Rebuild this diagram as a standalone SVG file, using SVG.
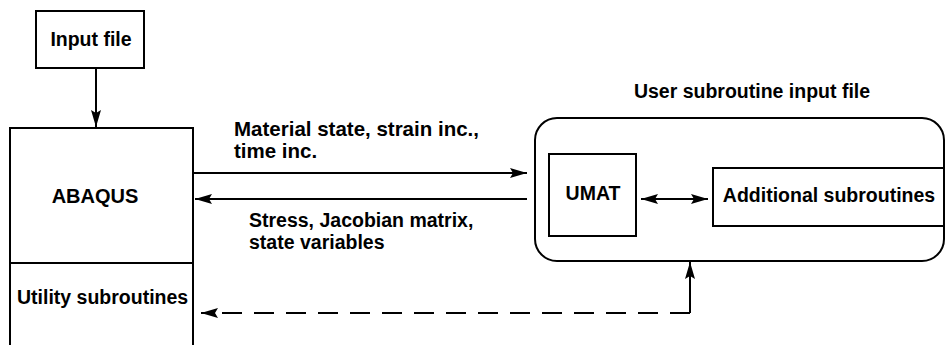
<svg xmlns="http://www.w3.org/2000/svg" width="946" height="345" viewBox="0 0 946 345">
  <style>
    .box { fill: none; stroke: #000; stroke-width: 2; }
    .t { font-family: "Liberation Sans", Arial, sans-serif; font-weight: bold; font-size: 19.5px; fill: #000; }
    .c { text-anchor: middle; }
    .line { stroke: #000; stroke-width: 2; fill: none; }
    .dash { stroke-dasharray: 20 12; }
  </style>
  <defs>
    <marker id="arr" markerUnits="userSpaceOnUse" markerWidth="20" markerHeight="12" refX="17" refY="5" orient="auto-start-reverse">
      <path d="M0,0 L17,5 L0,10 L3,5 z" fill="#000"/>
    </marker>
  </defs>
  <rect width="946" height="345" fill="#fff"/>

  <g id="input-file">
    <rect class="box" x="36" y="11" width="108" height="57"/>
    <text class="t c" x="91" y="46">Input file</text>
  </g>

  <g id="abaqus">
    <path class="box" d="M10,345 V128 H193 V345"/>
    <text class="t c" x="95" y="203" style="font-size:20px">ABAQUS</text>
  </g>

  <g id="utility">
    <line class="line" x1="10" y1="263" x2="193" y2="263"/>
    <text class="t" x="17" y="304">Utility subroutines</text>
  </g>

  <g id="user-file">
    <rect class="box" x="535" y="118" width="409" height="143" rx="22" ry="22"/>
    <text class="t c" x="752" y="98">User subroutine input file</text>
  </g>

  <g id="umat">
    <rect class="box" x="549" y="154" width="87" height="82"/>
    <text class="t c" x="593" y="200">UMAT</text>
  </g>

  <g id="additional">
    <rect class="box" x="713" y="168" width="231" height="58"/>
    <text class="t c" x="829" y="202">Additional subroutines</text>
  </g>

  <g id="labels">
    <text class="t" x="234" y="136" style="font-size:20.5px">Material state, strain inc.,</text>
    <text class="t" x="234" y="158" style="font-size:20.5px">time inc.</text>
    <text class="t" x="249" y="227">Stress, Jacobian matrix,</text>
    <text class="t" x="249" y="249">state variables</text>
  </g>

  <g id="connectors">
    <line class="line" x1="96" y1="68" x2="96" y2="127" marker-end="url(#arr)"/>
    <line class="line" x1="193" y1="173" x2="527" y2="173" marker-end="url(#arr)"/>
    <line class="line" x1="527" y1="199" x2="195" y2="199" marker-end="url(#arr)"/>
    <line class="line" x1="641" y1="199" x2="708" y2="199" marker-start="url(#arr)" marker-end="url(#arr)"/>
    <line class="line dash" x1="690" y1="313" x2="201" y2="313" marker-end="url(#arr)"/>
    <line class="line" x1="690" y1="313" x2="690" y2="262" marker-end="url(#arr)"/>
  </g>
</svg>
